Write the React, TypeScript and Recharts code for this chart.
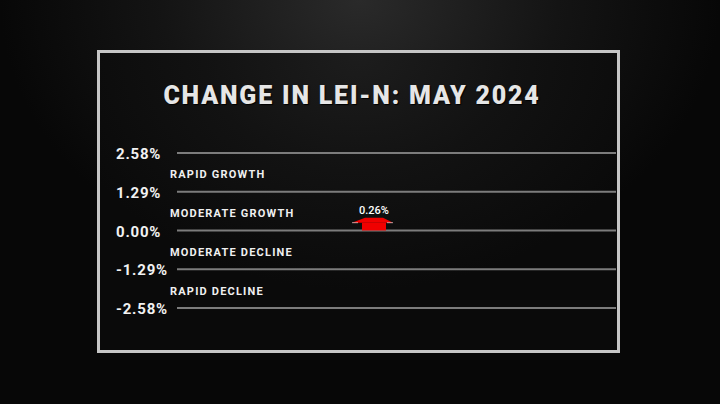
import { BarChart, Bar, XAxis, YAxis, CartesianGrid, ReferenceArea, LabelList } from "recharts";

const months = ["May 2024"];
const leiChange = [0.26];
const yTicks = [2.58, 1.29, 0, -1.29, -2.58];
const zoneNames = ["RAPID GROWTH", "MODERATE GROWTH", "MODERATE DECLINE", "RAPID DECLINE"];
const zoneTops = [2.58, 1.29, 0, -1.29];
const zoneBottoms = [1.29, 0, -1.29, -2.58];

const data = months.map((m, i) => ({ month: m, value: leiChange[i] }));
const FONT = "Roboto, 'Liberation Sans', sans-serif";

const fmtPct = (v: number) => `${v.toFixed(2)}%`;

// red arrow: bar body with a flat-topped head sitting on the value
function ArrowBar(props: any) {
  const { x, y, width, height } = props;
  if (height == null || width == null) return null;
  const head = [
    [x - 10, y],
    [x + 3, y - 5],
    [x + width - 3, y - 5],
    [x + width + 7, y],
  ]
    .map((p) => p.join(","))
    .join(" ");
  return (
    <g>
      <rect x={x} y={y} width={width} height={height} fill="#f00000" />
      <polygon points={head} fill="#f00000" />
      <line x1={x - 10} y1={y} x2={x - 4} y2={y} stroke="#ffffff" strokeOpacity={0.6} strokeWidth={1} />
      <line x1={x + width + 1} y1={y} x2={x + width + 7} y2={y} stroke="#ffffff" strokeOpacity={0.6} strokeWidth={1} />
    </g>
  );
}

function YTick(props: any) {
  const { y, payload } = props;
  return (
    <text
      x={116}
      y={y}
      dy={6}
      textAnchor="start"
      fill="#f2f2f2"
      fontFamily={FONT}
      fontWeight={700}
      fontSize={15}
      letterSpacing={0.8}
    >
      {fmtPct(payload.value)}
    </text>
  );
}

export default function App() {
  return (
    <div
      style={{
        position: "absolute",
        left: 0,
        top: 0,
        width: 720,
        height: 404,
        overflow: "hidden",
        background: "radial-gradient(ellipse 50% 70% at 50% 0%, #2a2a2a 0%, #141414 55%, #070707 100%)",
      }}
    >
      <div
        style={{
          position: "absolute",
          left: 97,
          top: 50,
          width: 517,
          height: 297,
          border: "3px solid #c6c6c6",
          background: "radial-gradient(ellipse 60% 80% at 50% 0%, #1d1d1d 0%, #121212 50%, #0a0a0a 100%)",
        }}
      />
      <div
        style={{
          position: "absolute",
          left: 97,
          top: 81,
          width: 510,
          textAlign: "center",
          color: "#e6e6e6",
          fontFamily: FONT,
          fontWeight: 900,
          fontSize: 25,
          letterSpacing: 1.8,
          textShadow: "1px 1px 1px #000",
        }}
      >
        CHANGE IN LEI-N: MAY 2024
      </div>
      <div style={{ position: "absolute", left: 0, top: 0 }}>
        <BarChart
          width={720}
          height={404}
          data={data}
          margin={{ top: 153, right: 104, bottom: 96, left: 0 }}
        >
          <CartesianGrid vertical={false} stroke="#7c7c7c" strokeWidth={2} />
          <XAxis dataKey="month" hide padding={{ left: 0, right: 45 }} />
          <YAxis
            width={177}
            domain={[-2.58, 2.58]}
            ticks={yTicks}
            axisLine={false}
            tickLine={false}
            tick={<YTick />}
          />
          {zoneNames.map((name, i) => (
            <ReferenceArea
              key={name}
              y1={zoneBottoms[i]}
              y2={zoneTops[i]}
              fill="none"
              fillOpacity={0}
              stroke="none"
              label={{
                value: name,
                position: "insideLeft",
                offset: -7,
                fill: "#f0f0f0",
                fontFamily: FONT,
                fontWeight: 700,
                fontSize: 11,
                letterSpacing: 1.2,
                dy: 2,
              }}
            />
          ))}
          <Bar dataKey="value" barSize={24} shape={<ArrowBar />} isAnimationActive={false}>
            <LabelList
              dataKey="value"
              position="top"
              offset={9}
              formatter={(v: any) => fmtPct(Number(v))}
              fill="#ffffff"
              fontFamily={FONT}
              fontWeight={500}
              fontSize={11}
            />
          </Bar>
        </BarChart>
      </div>
    </div>
  );
}
